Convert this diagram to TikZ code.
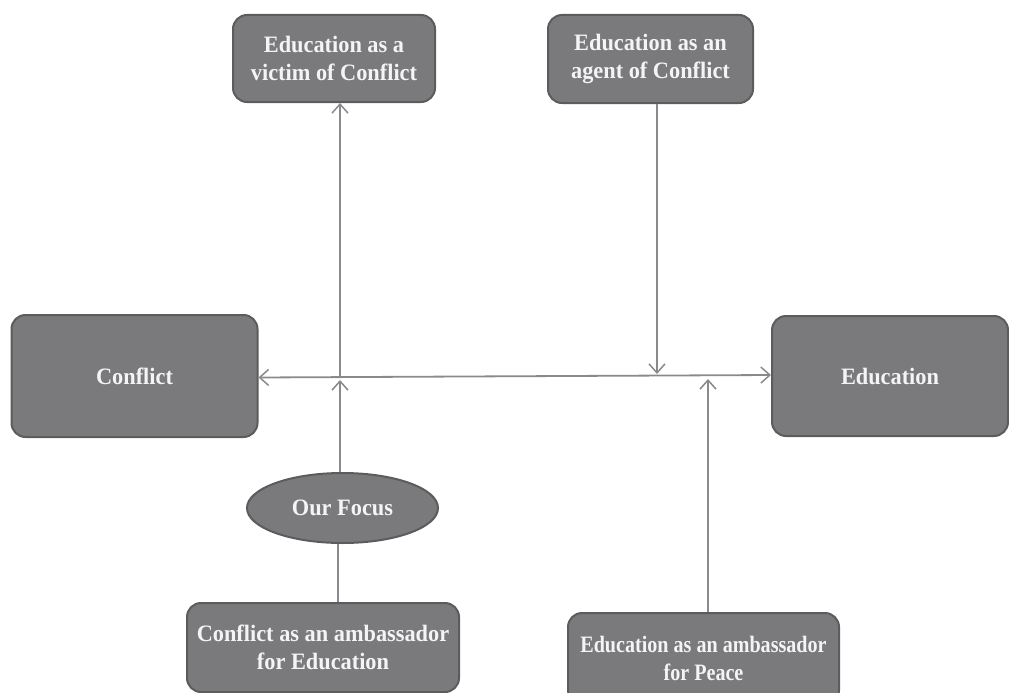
\documentclass[tikz,border=0pt]{standalone}
\usepackage{fontspec}
\setmainfont{Liberation Serif}[FakeStretch=0.95]
\newfontfamily\narrowserif{Liberation Serif}[FakeStretch=0.855]
\usetikzlibrary{arrows.meta,shapes.geometric}
\definecolor{boxfill}{HTML}{7A7A7D}
\definecolor{boxedge}{HTML}{5C5C5E}
\definecolor{linegray}{HTML}{8A8A8C}
\definecolor{txt}{HTML}{F4F4F4}
\tikzset{
  box/.style={draw=boxedge, line width=2pt, fill=boxfill, rounded corners=14pt,
    text=txt, font=\bfseries\fontsize{23.5}{28}\selectfont, align=center, inner sep=0pt},
  oval/.style={ellipse, draw=boxedge, line width=2pt, fill=boxfill,
    text=txt, font=\bfseries\fontsize{23.5}{28}\selectfont, inner sep=0pt},
  conn/.style={draw=linegray, line width=1.8pt},
  arr/.style={conn, -{Straight Barb[length=9pt, width=16pt, line width=1.5pt]}},
}
\begin{document}
\begin{tikzpicture}[x=1pt, y=-1pt]
\useasboundingbox (0,0) rectangle (1009,693);
\begin{scope}
\clip (0,0) rectangle (1009,693);
\node[box, minimum width=202pt, minimum height=87pt] (victim) at (334,58.5) {Education as a\\victim of Conflict};
\node[box, minimum width=205pt, minimum height=88pt] (agent) at (650.5,59) {Education as an\\agent of Conflict};
\node[box, minimum width=246pt, minimum height=122pt] (conflict) at (134.5,376) {Conflict};
\node[box, minimum width=236pt, minimum height=120pt] (education) at (890,376) {Education};
\node[oval, minimum width=191pt, minimum height=70pt] (focus) at (342.5,508) {Our Focus};
\node[box, minimum width=272pt, minimum height=89pt] (cambass) at (323,647.5) {Conflict as an ambassador\\for Education};
\node[box, minimum width=271pt, minimum height=91pt, font=\narrowserif\bfseries\fontsize{23.5}{28}\selectfont] (eambass) at (703.5,658.5) {Education as an ambassador\\for Peace};
\end{scope}
\coordinate (hl) at (conflict.east |- 0,377.5);
\coordinate (hr) at (education.west |- 0,375);
\coordinate (vmid) at (340,378);
\coordinate (vtip) at (340,380);
\coordinate (amid) at (657,374);
\coordinate (pmid) at (708,379);
\draw[conn, {Straight Barb[length=9pt, width=16pt, line width=1.5pt]}-{Straight Barb[length=9pt, width=16pt, line width=1.5pt]}] (hl) -- (hr);
\draw[arr] (focus.north -| vtip) -- (vtip);
\draw[arr] (vmid) -- (victim.south -| vmid);
\draw[arr] (agent.south -| amid) -- (amid);
\draw[arr] (eambass.north -| pmid) -- (pmid);
\draw[conn] (focus.south -| 338,0) -- (cambass.north -| 338,0);
\end{tikzpicture}
\end{document}
